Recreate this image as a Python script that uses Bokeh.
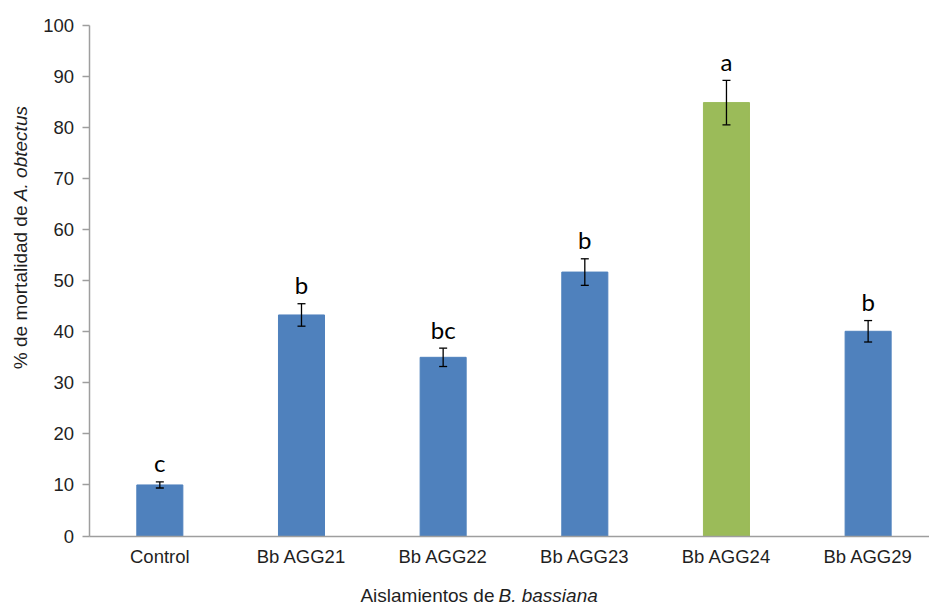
import math
from bokeh.plotting import figure
from bokeh.models import (ColumnDataSource, Range1d, Whisker, TeeHead, Label,
                          FixedTicker, LinearAxis)
from bokeh.core.properties import value
from bokeh.embed import file_html
from bokeh.resources import INLINE

# ---- data ----
categories = ["Control", "Bb AGG21", "Bb AGG22", "Bb AGG23", "Bb AGG24", "Bb AGG29"]
mortality = [10.0, 43.3, 35.0, 51.7, 84.9, 40.1]
std_error = [0.6, 2.2, 1.8, 2.6, 4.35, 2.1]
letters = ["c", "b", "bc", "b", "a", "b"]
y_ticks = [0, 10, 20, 30, 40, 50, 60, 70, 80, 90, 100]

BLUE = "#4F81BD"
GREEN = "#9BBB59"
colors = [GREEN if m == max(mortality) else BLUE for m in mortality]

# category slots: one unit per category, centred on i + 0.5
xpos = [i + 0.5 for i in range(len(categories))]
upper = [m + e for m, e in zip(mortality, std_error)]
lower = [m - e for m, e in zip(mortality, std_error)]

src = ColumnDataSource(dict(x=xpos, val=mortality, up=upper, lo=lower,
                            let=letters, col=colors))

# ---- layout: frame covers the whole canvas, axes are placed inside it ----
W, H = 929, 605
AX_X, AX_Y0, AX_Y100 = 88.5, 535.5, 25.0          # pixel positions of the plot area
SLOT = 141.66                                      # px per category
PX_PER_UNIT = (AX_Y0 - AX_Y100) / 100.0
x_start = -AX_X / SLOT
x_end = (W - AX_X) / SLOT
y_end = 100 + AX_Y100 / PX_PER_UNIT
y_start = -(H - AX_Y0) / PX_PER_UNIT

p = figure(width=W, height=H, x_range=Range1d(x_start, x_end), y_range=Range1d(y_start, y_end),
           output_backend="svg", toolbar_location=None,
           x_axis_location=None, y_axis_location=None,
           min_border_left=0, min_border_right=0, min_border_top=0, min_border_bottom=0)
p.outline_line_color = None
p.background_fill_color = "white"
p.border_fill_color = "white"
p.xgrid.visible = False
p.ygrid.visible = False

p.vbar(x="x", top="val", width=0.325, source=src, fill_color="col", line_color="col")

w = Whisker(base="x", upper="up", lower="lo", source=src, line_color="black", line_width=1.3,
            level="overlay",
            upper_head=TeeHead(size=8, line_color="black", line_width=1.3),
            lower_head=TeeHead(size=8, line_color="black", line_width=1.3))
p.add_layout(w)

p.text(x="x", y="up", text="let", source=src, y_offset=-19,
       text_align="center", text_baseline="alphabetic",
       text_font=value("Lato"), text_font_size="24px", text_color="black")

AXIS_COL = "#9e9e9e"
TXT_COL = "#1f1f1f"
FONT = "Liberation Sans"

yax = LinearAxis(fixed_location=0, bounds=(0, 100), ticker=FixedTicker(ticks=y_ticks))
yax.minor_tick_line_color = None
yax.major_tick_out = 7
yax.major_tick_in = 0
yax.major_label_standoff = 8
yax.axis_line_color = AXIS_COL
yax.axis_line_width = 1.5
yax.major_tick_line_color = AXIS_COL
yax.major_tick_line_width = 1.5
yax.major_label_text_font = FONT
yax.major_label_text_font_size = "18.5px"
yax.major_label_text_color = TXT_COL
p.add_layout(yax, "left")

xax = LinearAxis(fixed_location=0, bounds=(0, x_end), ticker=FixedTicker(ticks=xpos),
                 major_label_overrides={xv: c for xv, c in zip(xpos, categories)})
xax.major_tick_line_color = None
xax.major_tick_out = 0
xax.major_tick_in = 0
xax.minor_tick_line_color = None
xax.major_label_standoff = 10
xax.axis_line_color = AXIS_COL
xax.axis_line_width = 1.5
xax.major_label_text_font = FONT
xax.major_label_text_font_size = "18.5px"
xax.major_label_text_color = TXT_COL
p.add_layout(xax, "below")

# x-axis title (upright + italic parts)
p.add_layout(Label(x=2.8625, y=-11.75, text="Aislamientos de", text_align="right",
                   text_baseline="alphabetic", text_font=FONT, text_font_size="19px",
                   text_color=TXT_COL))
p.add_layout(Label(x=2.8907, y=-11.75, text="B. bassiana", text_align="left",
                   text_baseline="alphabetic", text_font=FONT, text_font_size="19px",
                   text_font_style="italic", text_color=TXT_COL))

# y-axis title (upright + italic parts), rotated
p.add_layout(Label(x=-0.4836, y=64.74, text="% de mortalidad de", angle=math.pi / 2,
                   text_align="right", text_baseline="middle", text_font=FONT,
                   text_font_size="19px", text_color=TXT_COL))
p.add_layout(Label(x=-0.4836, y=65.6, text="A. obtectus", angle=math.pi / 2,
                   text_align="left", text_baseline="middle", text_font=FONT,
                   text_font_size="19px", text_font_style="italic", text_color=TXT_COL))

open("out.html", "w").write(file_html(p, INLINE))
